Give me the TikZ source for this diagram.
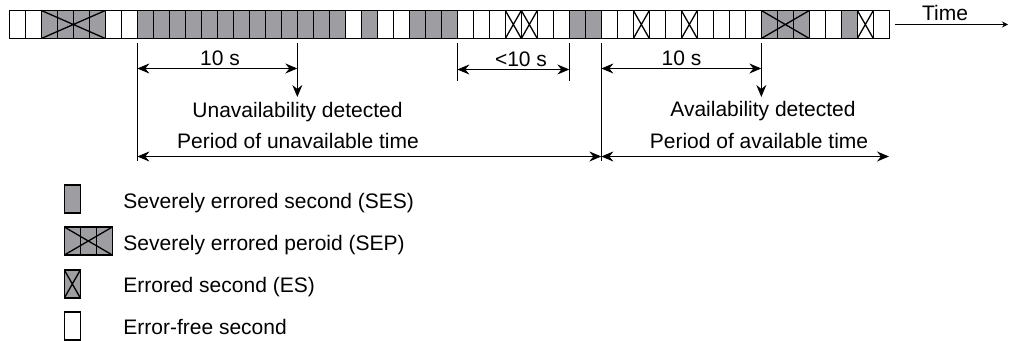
\documentclass[tikz,border=0pt]{standalone}
\usepackage{fontspec}
\setmainfont{Liberation Sans}
\usetikzlibrary{arrows.meta}
\definecolor{sesgray}{RGB}{158,158,162}
\tikzset{
  cellW/.style={draw, line width=0.7pt, fill=white},
  cellS/.style={draw, line width=0.7pt, fill=sesgray},
  cellP/.style={draw, line width=0.7pt, fill=sesgray},
  cross/.style={path picture={\draw[line width=0.65pt]
    (path picture bounding box.north west) -- (path picture bounding box.south east)
    (path picture bounding box.south west) -- (path picture bounding box.north east);}},
  cellE/.style={draw, line width=0.7pt, fill=white, cross},
  tick/.style={line width=0.5pt},
  dimline/.style={line width=0.6pt, <->},
  lbl/.style={inner sep=0pt, anchor=base},
  legtext/.style={inner sep=0pt, anchor=base west}
}
\begin{document}
\begin{tikzpicture}[x=0.5pt, y=-0.5pt, >={Stealth[length=6pt,width=5pt,inset=2pt]},
  font=\fontsize{10.5pt}{12pt}\selectfont]
  \useasboundingbox (0,0) rectangle (1011,341);

  % strip of seconds
  \foreach \k [count=\i] in {W,W,P,P,P,P,W,W,S,S,S,S,S,S,S,S,S,S,S,S,S,W,S,W,W,S,S,S,
    W,W,W,E,E,W,W,S,S,W,W,E,W,W,E,W,W,W,W,P,P,P,W,W,S,E,W}{
    \pgfmathsetmacro\cx{9.33+16*(\i-1)}
    \draw[cell\k] (\cx,10.5) rectangle ++(16,28);
  }
  \coordinate (sepAnw) at (41.33,10.5);
  \coordinate (sepAse) at (105.33,38.5);
  \coordinate (sepAsw) at (41.33,38.5);
  \coordinate (sepAne) at (105.33,10.5);
  \coordinate (sepBnw) at (761.33,10.5);
  \coordinate (sepBse) at (809.33,38.5);
  \coordinate (sepBsw) at (761.33,38.5);
  \coordinate (sepBne) at (809.33,10.5);
  \draw[line width=0.65pt] (sepAnw) -- (sepAse) (sepAsw) -- (sepAne);
  \draw[line width=0.65pt] (sepBnw) -- (sepBse) (sepBsw) -- (sepBne);

  % time axis
  \coordinate (timeA) at (895,24.5);
  \coordinate (timeB) at (1008,24.5);
  \draw[line width=0.6pt, -{Stealth[length=3pt,width=3pt]}] (timeA) -- (timeB);
  \node[lbl] (timelbl) at (945,21) {Time};

  % ticks
  \coordinate (uStart) at (137.33,43);
  \coordinate (uStartB) at (137.33,161);
  \coordinate (uDet) at (297.33,43);
  \coordinate (uDetB) at (297.33,97);
  \coordinate (gA) at (457.33,43);
  \coordinate (gAB) at (457.33,81);
  \coordinate (gB) at (569.33,43);
  \coordinate (gBB) at (569.33,81);
  \coordinate (aStart) at (601.33,43);
  \coordinate (aStartB) at (601.33,161);
  \coordinate (aDet) at (761.33,43);
  \coordinate (aDetB) at (761.33,97);
  \draw[tick] (uStart) -- (uStartB);
  \draw[tick,->] (uDet) -- (uDetB);
  \draw[tick] (gA) -- (gAB);
  \draw[tick] (gB) -- (gBB);
  \draw[tick] (aStart) -- (aStartB);
  \draw[tick,->] (aDet) -- (aDetB);

  % dimension arrows
  \coordinate (dimUa) at (137.33,68.5);
  \coordinate (dimUb) at (297.33,68.5);
  \coordinate (dimGa) at (457.33,69.5);
  \coordinate (dimGb) at (569.33,69.5);
  \coordinate (dimAa) at (601.33,68.5);
  \coordinate (dimAb) at (761.33,68.5);
  \coordinate (perUa) at (137.33,156.5);
  \coordinate (perUb) at (601.33,156.5);
  \coordinate (perAb) at (889,156.5);
  \draw[dimline] (dimUa) -- (dimUb);
  \draw[dimline] (dimGa) -- (dimGb);
  \draw[dimline] (dimAa) -- (dimAb);
  \draw[dimline] (perUa) -- (perUb);
  \draw[dimline] (perUb) -- (perAb);

  \node[lbl] (tenU) at (220,66) {10 s};
  \node[lbl] (lessTen) at (521,66.5) {<10 s};
  \node[lbl] (tenA) at (681.5,66) {10 s};
  \node[lbl] (unavDet) at (297.5,117.5) {Unavailability detected};
  \node[lbl] (unavPer) at (298,149) {Period of unavailable time};
  \node[lbl] (avDet) at (763,117) {Availability detected};
  \node[lbl] (avPer) at (759,148.5) {Period of available time};

  % legend
  \draw[cellS] (64.33,185) rectangle ++(16,28);
  \draw[cellP] (64.33,227) rectangle ++(48,28);
  \draw[line width=0.7pt] (80.33,227) -- (80.33,255) (96.33,227) -- (96.33,255);
  \coordinate (legPnw) at (64.33,227);
  \coordinate (legPse) at (112.33,255);
  \coordinate (legPsw) at (64.33,255);
  \coordinate (legPne) at (112.33,227);
  \draw[line width=0.65pt] (legPnw) -- (legPse) (legPsw) -- (legPne);
  \draw[cellS, cross] (64.33,270) rectangle ++(16,28);
  \draw[cellW] (64.33,312) rectangle ++(16,28);
  \node[legtext] (legS) at (123,208.5) {Severely errored second (SES)};
  \node[legtext] (legP) at (123,250.5) {Severely errored peroid (SEP)};
  \node[legtext] (legE) at (123,293) {Errored second (ES)};
  \node[legtext] (legW) at (123,335) {Error-free second};
\end{tikzpicture}
\end{document}
